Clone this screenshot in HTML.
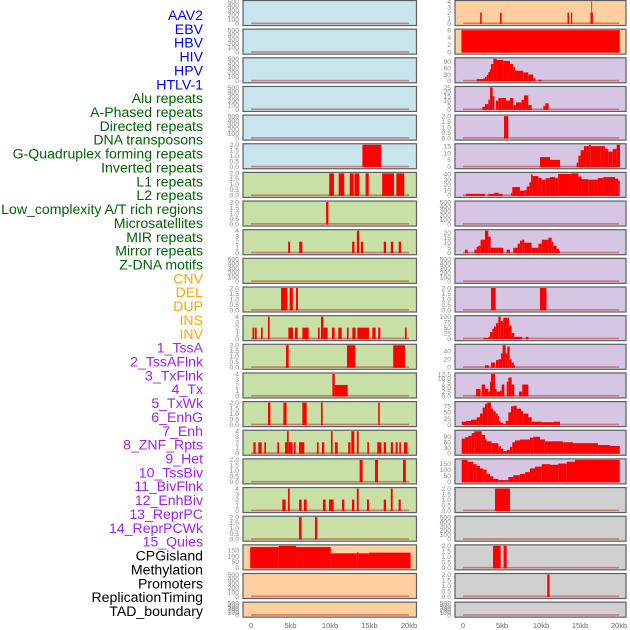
<!DOCTYPE html>
<html><head><meta charset="utf-8"><style>
html,body{margin:0;padding:0;background:#fff;}
svg{display:block;font-family:"Liberation Sans",sans-serif;}
</style></head><body>
<svg id="chart" width="630" height="630" viewBox="0 0 630 630"></svg>
<script>
// ---- labels ----
const trackLabels = ["AAV2","EBV","HBV","HIV","HPV","HTLV-1","Alu repeats","A-Phased repeats","Directed repeats","DNA transposons","G-Quadruplex forming repeats","Inverted repeats","L1 repeats","L2 repeats","Low_complexity A/T rich regions","Microsatellites","MIR repeats","Mirror repeats","Z-DNA motifs","CNV","DEL","DUP","INS","INV","1_TssA","2_TssAFlnk","3_TxFlnk","4_Tx","5_TxWk","6_EnhG","7_Enh","8_ZNF_Rpts","9_Het","10_TssBiv","11_BivFlnk","12_EnhBiv","13_ReprPC","14_ReprPCWk","15_Quies","CPGisland","Methylation","Promoters","ReplicationTiming","TAD_boundary"];
const labelGroups = [6,13,5,15,5];
const xTickValues = [0,5,10,15,20];
const xTickLabels = ["0","5kb","10kb","15kb","20kb"];
// ---- tick sets ----
const T2 = [0,0.5,1,1.5,2];
const T4 = [0,1,2,3,4];
const T500 = [0,100,200,300,400,500];
// ---- left column data: segments [startKb, endKb, value] ----
const L5 = [[14.1,16.5,2]];
const L6 = [[9.9,10.5,2],[11.1,11.8,2],[12.5,13.0,2],[13.1,13.7,2],[14.5,14.9,2],[16.6,18.1,2],[18.4,19.4,2]];
const L7 = [[9.5,9.8,2]];
const L8 = [[4.7,4.95,2],[6.1,6.5,2],[12.8,13.1,2],[13.4,13.7,4],[13.9,14.2,2],[16.8,17.1,2],[17.7,18.0,2],[18.7,19.0,2]];
const L10 = [[3.8,4.6,2],[4.9,5.3,2],[5.7,5.95,2]];
const L11 = [[0.19,0.42,2],[0.51,0.72,2],[1.27,1.48,2],[2.15,2.36,4],[4.73,5.32,2],[5.57,5.91,2],[6.5,7.3,2],[8.48,8.69,2],[8.86,9.16,4],[9.16,9.7,2],[10.25,10.59,2],[11.05,11.48,2],[12.15,12.36,2],[12.83,13.25,2],[13.46,14.93,2],[15.36,15.78,2],[16.1,16.37,2],[19.49,19.7,2]];
const L12 = [[4.43,4.77,2],[12.15,13.2,2],[18.0,19.5,2]];
const L13 = [[10.3,10.6,4],[10.6,12.24,2]];
const L14 = [[2.15,2.45,2],[4.1,4.5,2],[6.5,7.05,2],[8.86,9.07,2],[16.1,16.3,2]];
const L15 = [[0.30,0.59,2],[0.93,1.35,2],[1.69,1.9,2],[3.33,3.54,2],[4.3,4.56,2],[4.56,4.77,4],[4.77,5.27,2],[5.44,5.65,2],[6.08,6.75,2],[8.35,8.56,2],[8.99,9.28,2],[10.12,10.33,4],[10.63,10.97,2],[12.3,12.6,2],[12.7,13.08,4],[13.4,13.63,4],[14.72,14.93,2],[15.98,16.5,2],[16.8,17.1,2],[17.7,17.97,2],[18.31,18.56,2],[18.77,18.98,2],[19.36,19.8,2]];
const L16 = [[13.75,14.13,2],[15.7,16.07,2],[19.24,19.6,2]];
const L17 = [[3.96,4.39,2],[4.68,4.9,4],[6.08,6.41,2],[6.7,7.05,2],[9.11,9.45,2],[9.87,10.46,2],[11.52,11.82,2],[12.78,13.08,2],[13.4,13.63,4],[14.68,14.93,2],[16.8,17.1,2],[17.7,17.93,4],[18.69,18.95,2]];
const L18 = [[6.08,6.41,2],[8.1,8.4,2]];
const L19 = [[-0.1,3.5,175],[3.5,5.7,185],[5.7,10.1,175],[10.1,13.4,122],[13.4,13.6,130],[13.6,15.0,122],[15.0,20.2,128]];
const leftSeries = [[],[],[],[],[],L5,L6,L7,L8,[],L10,L11,L12,L13,L14,L15,L16,L17,L18,L19,[],[]];
const leftTicks = [T500,T500,T500,T500,T500,T2,T2,T2,T4,T500,T2,T4,T2,T4,T2,T4,T2,T4,T2,[0,50,100,150],T500,T500];
const leftYMax = [500,500,500,500,500,2,2,2,4,500,2,4,2,4,2,4,2,4,2,185,500,500];
// ---- right column data ----
const R0 = [[2.2,2.4,2],[4.75,4.95,2],[13.4,13.6,2],[13.85,14.0,2],[16.35,16.65,2],[16.45,16.55,4]];
const R1 = [[-0.2,20.1,6]];
const R2 = [[1.75,2.6,8],[2.6,2.82,12],[2.82,3.03,18],[3.03,3.25,28],[3.25,3.46,42],[3.46,3.59,55],[3.59,3.89,80],[3.89,4.3,105],[4.3,5.17,100],[5.17,6.02,95],[6.02,6.45,80],[6.45,6.67,65],[6.67,7.73,48],[7.73,8.37,40],[8.37,9.01,30],[9.01,9.3,12],[9.66,10.1,5]];
const R3 = [[2.48,2.82,3],[2.82,3.25,6],[3.25,3.46,11],[3.46,3.8,25],[3.8,4.02,15],[4.23,4.53,10],[4.53,4.96,13],[4.96,5.51,13],[5.51,6.02,10],[6.02,6.45,13],[6.45,6.79,5],[6.79,7.52,8],[7.52,7.82,11],[7.82,8.37,16],[8.37,8.8,5],[10.3,10.55,4],[10.55,10.98,7]];
const R4 = [[5.26,5.8,2]];
const R5 = [[9.87,11.15,7],[11.15,12.44,5],[14.57,14.79,3],[14.79,15.08,8],[15.08,15.51,12],[15.51,16.15,15],[16.15,16.37,16],[16.37,17.65,15],[17.65,18.2,15],[18.2,18.63,13],[18.63,19.19,11],[19.19,19.7,13],[19.7,20.13,16]];
const R6 = [[0.38,2.82,3],[3.25,4.0,3],[4.0,4.53,5],[4.53,5.08,3],[6.15,6.32,5],[6.32,7.3,16],[7.3,7.86,9],[7.86,8.16,10],[8.16,8.5,17],[8.5,8.72,25],[8.72,8.93,40],[8.93,9.66,37],[9.66,10.1,33],[10.1,10.6,30],[10.6,11.15,33],[11.15,11.8,35],[11.8,12.2,33],[12.2,13.9,41],[13.9,14.8,42],[14.8,15.2,36],[15.2,16.07,31],[16.07,17.26,30],[17.26,18.0,33],[18.0,19.5,35],[19.5,19.9,32],[19.9,20.1,28]];
const R8 = [[0.26,0.6,3],[1.45,1.75,3],[1.75,1.97,6],[1.97,2.26,7],[2.26,2.82,13],[2.82,3.25,22],[3.25,3.55,16],[3.55,5.17,5],[5.6,6.02,3],[6.45,7.0,5],[7.0,7.3,9],[7.3,7.6,12],[7.6,7.86,13],[7.86,8.8,10],[8.8,9.66,5],[9.66,10.1,9],[10.1,10.94,13],[10.94,11.37,15],[11.37,11.58,11],[11.58,12.0,7],[12.0,12.3,4],[12.3,12.4,2]];
const R10 = [[3.59,4.19,2],[9.87,10.7,2]];
const R11 = [[2.6,3.25,3],[3.25,3.46,8],[3.46,3.76,30],[3.76,3.97,45],[3.97,4.23,55],[4.23,4.53,70],[4.53,4.83,100],[4.83,5.17,80],[5.17,5.9,95],[5.9,6.24,60],[6.24,6.58,25],[6.58,7.6,8],[8.03,8.38,8]];
const R12 = [[2.82,3.33,5],[3.59,4.1,12],[4.23,4.53,18],[4.53,4.87,20],[4.87,5.08,35],[5.08,5.47,55],[5.47,5.68,35],[5.68,5.98,52],[5.98,6.24,20],[6.24,6.5,12],[6.5,6.67,5]];
const R13 = [[1.67,2.26,4],[2.4,2.82,6.5],[2.82,3.25,4],[3.25,3.46,2.5],[3.46,3.59,8],[3.59,4.1,12.5],[4.1,4.32,4],[4.32,4.74,2.5],[4.74,4.96,3],[4.96,5.3,6.5],[5.6,5.81,8],[5.81,6.24,10.5],[6.24,6.58,6.5],[7.18,7.6,2.5],[7.6,8.38,6.5]];
const R14 = [[-0.17,0.38,12],[0.38,1.03,15],[1.03,1.75,20],[1.75,2.18,30],[2.18,2.52,45],[2.52,2.82,70],[2.82,3.12,85],[3.12,3.59,90],[3.59,3.89,65],[3.89,4.19,55],[4.19,4.45,45],[4.45,4.62,35],[4.62,4.83,15],[4.83,5.17,8],[5.17,5.47,2],[5.47,5.81,15],[5.81,6.15,50],[6.15,6.45,75],[6.45,6.88,77],[6.88,7.44,65],[7.44,7.73,55],[7.73,8.38,45],[8.38,8.8,30],[8.8,10.1,12],[10.1,11.58,10],[11.58,12.44,12]];
const R15 = [[-0.17,0.26,80],[0.26,0.68,87],[0.68,1.11,95],[1.11,1.45,110],[1.45,2.4,120],[2.4,2.82,100],[2.82,3.03,75],[3.03,3.67,65],[3.67,4.53,55],[4.53,4.87,38],[4.87,5.17,25],[5.17,5.6,12],[5.6,6.02,18],[6.02,6.32,35],[6.32,6.67,60],[6.67,7.3,70],[7.3,8.59,75],[8.59,9.0,85],[9.0,9.87,90],[9.87,10.5,75],[10.5,12.86,65],[12.86,14.1,60],[14.1,17.3,55],[17.3,18.85,45],[18.85,20.1,40]];
const R16 = [[-0.17,0.6,180],[0.6,1.32,165],[1.32,1.75,145],[1.75,2.18,130],[2.18,2.6,110],[2.6,3.03,100],[3.03,3.46,65],[3.46,3.89,45],[3.89,4.53,25],[4.53,5.81,15],[5.81,6.45,40],[6.45,7.3,55],[7.3,7.96,65],[7.96,8.59,80],[8.59,9.23,110],[9.23,10.1,125],[10.1,11.15,145],[11.15,12.2,140],[12.2,13.3,150],[13.3,14.36,165],[14.36,20.1,180]];
const R17 = [[4.1,6.02,2]];
const R19 = [[3.85,4.83,2],[5.2,5.6,2]];
const R20 = [[10.8,11.1,2]];
const rightSeries = [R0,R1,R2,R3,R4,R5,R6,[],R8,[],R10,R11,R12,R13,R14,R15,R16,R17,[],R19,R20,[]];
const rightTicks = [T4,[0,2,4,6],[0,30,60,90],[0,5,10,15,20,25],T2,[0,5,10,15],[0,10,20,30,40],T500,[0,5,10,15,20],T500,T2,[0,25,50,75,100],[0,20,40],[0,2.5,5,7.5,10,12.5],[0,25,50,75],[0,30,60,90],[0,50,100,150],T2,T500,T2,T2,T500];
const rightYMax = [4,6,105,25,2,16,42,500,22,500,2,100,55,12.5,90,120,180,2,500,2,2,500];

// ---- rendering ----
const NS = "http://www.w3.org/2000/svg";
const svg = document.getElementById("chart");
function mk(tag, attrs, parent){const e=document.createElementNS(NS,tag);for(const k in attrs)e.setAttribute(k,attrs[k]);(parent||svg).appendChild(e);return e;}
const groupColors = ["#0000ff","#006400","#ffa500","#a020f0","#000000"];
const leftBg = i => i<=5 ? "#c8e4ec" : (i<=18 ? "#c8e0a6" : "#fecf9f");
const rightBg = i => i<=1 ? "#fecf9f" : (i<=16 ? "#d6c6e3" : "#d0d0d0");
const columns = [
  {x0:243, x1:416.5, kb0:251, kb20:409, series:leftSeries, ticks:leftTicks, ymax:leftYMax, bg:leftBg, name:"left"},
  {x0:455, x1:626, kb0:463, kb20:619, series:rightSeries, ticks:rightTicks, ymax:rightYMax, bg:rightBg, name:"right"}
];
const rowTop = k => k*28.65;
const rowH = k => k===21 ? 15 : 25;

// labels
let li=0;
labelGroups.forEach((n,g)=>{for(let j=0;j<n;j++){
  const t=mk("text",{x:203,y:15+li*13.86+5,"text-anchor":"end","font-size":"14.1",fill:groupColors[g]});
  t.textContent=trackLabels[li];
  
  
  li++;
}});

columns.forEach(col=>{
  const xs = kb => col.kb0 + kb*(col.kb20-col.kb0)/20;
  for(let k=0;k<22;k++){
    const top=rowTop(k), h=rowH(k);
    const g=mk("g",{});
    
    
    const r=mk("rect",{x:col.x0,y:top+0.5,width:col.x1-col.x0,height:h,fill:col.bg(k),stroke:"#5a5f63","stroke-width":"1.2"},g);
    
    
    const y0=top+h-1.5, y1=top+1.5, ymax=col.ymax[k];
    const ys = v => y0 - v/ymax*(y0-y1);
    const bl=mk("rect",{x:xs(0),y:y0-1,width:xs(20)-xs(0),height:1.6,fill:"#c03030",opacity:"0.55"},g);
    
    
    col.series[k].forEach(s=>{
      const b=mk("rect",{x:xs(s[0]),y:ys(s[2]),width:Math.max(0.8,xs(s[1])-xs(s[0])),height:y0-ys(s[2])+0.5,fill:"#ff0000"},g);
      
      
    });
    const tk=col.ticks[k];
    const dec=tk.some(v=>v%1!==0);
    tk.forEach(v=>{
      const t=mk("text",{x:col.x0-4,y:ys(v)+2.3,"text-anchor":"end","font-size":"6.8",fill:"#888"},g);
      t.textContent = dec ? v.toFixed(1) : String(v);
      
      
    });
  }
  xTickValues.forEach((v,i)=>{
    const t=mk("text",{x:xs(v),y:628,"text-anchor":"middle","font-size":"7.5",fill:"#666"});
    t.textContent=xTickLabels[i];
    
    
  });
});
</script>
</body></html>
